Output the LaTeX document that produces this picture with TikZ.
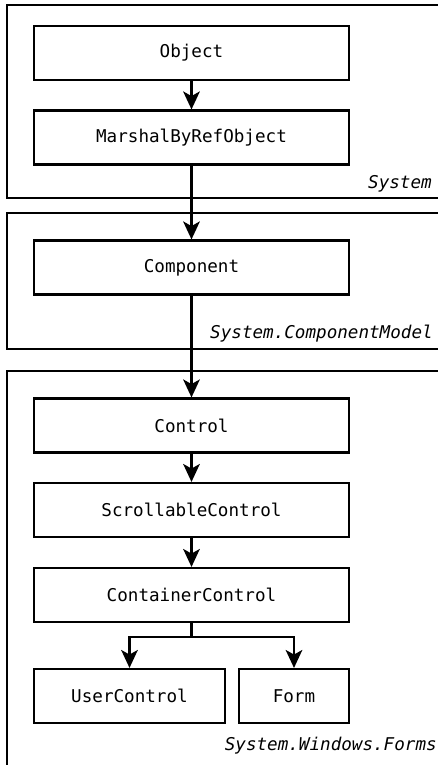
\documentclass[tikz,border=0pt]{standalone}
\usepackage{fontspec}
\setmonofont{DejaVu Sans Mono}
\usetikzlibrary{arrows.meta}

\tikzset{
    classbox/.style={draw, line width=1.6pt, minimum height=40.5pt, inner sep=0pt, font=\ttfamily\fontsize{13.2}{15}\selectfont},
    nsframe/.style={line width=1.6pt},
    nslabel/.style={anchor=base east, inner sep=0pt, font=\ttfamily\itshape\fontsize{13.2}{15}\selectfont},
    inherit/.style={line width=1.7pt, -{Stealth[length=13.5pt, width=12.5pt, inset=3.5pt]}}
}

\begin{document}
\begin{tikzpicture}[x=0.75pt, y=-0.75pt]
        \useasboundingbox (0,0) rectangle (438,765);

        % Namespace System (top)
        \draw[nsframe] (438,5) -- (7,5) -- (7,198) -- (438,198);
        \node[nslabel] (sys) at (432,188) {System};

        % Namespace System.ComponentModel (middle)
        \draw[nsframe] (438,213) -- (7,213) -- (7,349) -- (438,349);
        \node[nslabel] (cm) at (433,338) {System.ComponentModel};

        % Namespace System.Windows.Forms (bottom)
        \draw[nsframe] (438,371) -- (7,371) -- (7,770);
        \node[nslabel] (wf) at (437,750) {System.Windows.Forms};

        % Classes
        \node[classbox, minimum width=236.25pt] (obj) at (191.5,53) {Object};
        \node[classbox, minimum width=236.25pt] (mbr) at (191.5,137.5) {MarshalByRefObject};
        \node[classbox, minimum width=236.25pt] (comp) at (191.5,267.5) {Component};
        \node[classbox, minimum width=236.25pt] (ctrl) at (191.5,425.5) {Control};
        \node[classbox, minimum width=236.25pt] (scroll) at (191.5,510) {ScrollableControl};
        \node[classbox, minimum width=236.25pt] (cont) at (191.5,595) {ContainerControl};
        \node[classbox, minimum width=143.25pt] (user) at (129.5,696) {UserControl};
        \node[classbox, minimum width=82.5pt] (form) at (294,696) {Form};

        % Inheritance arrows
        \draw[inherit] (obj) -- (mbr);
        \draw[inherit] (mbr) -- (comp);
        \draw[inherit] (comp) -- (ctrl);
        \draw[inherit] (ctrl) -- (scroll);
        \draw[inherit] (scroll) -- (cont);

        % Branch to UserControl and Form
        \coordinate (split) at (191.5,637);
        \draw[inherit] (cont) -- (split) -| (user);
        \draw[inherit] (split) -| (form);
    \end{tikzpicture}
\end{document}
